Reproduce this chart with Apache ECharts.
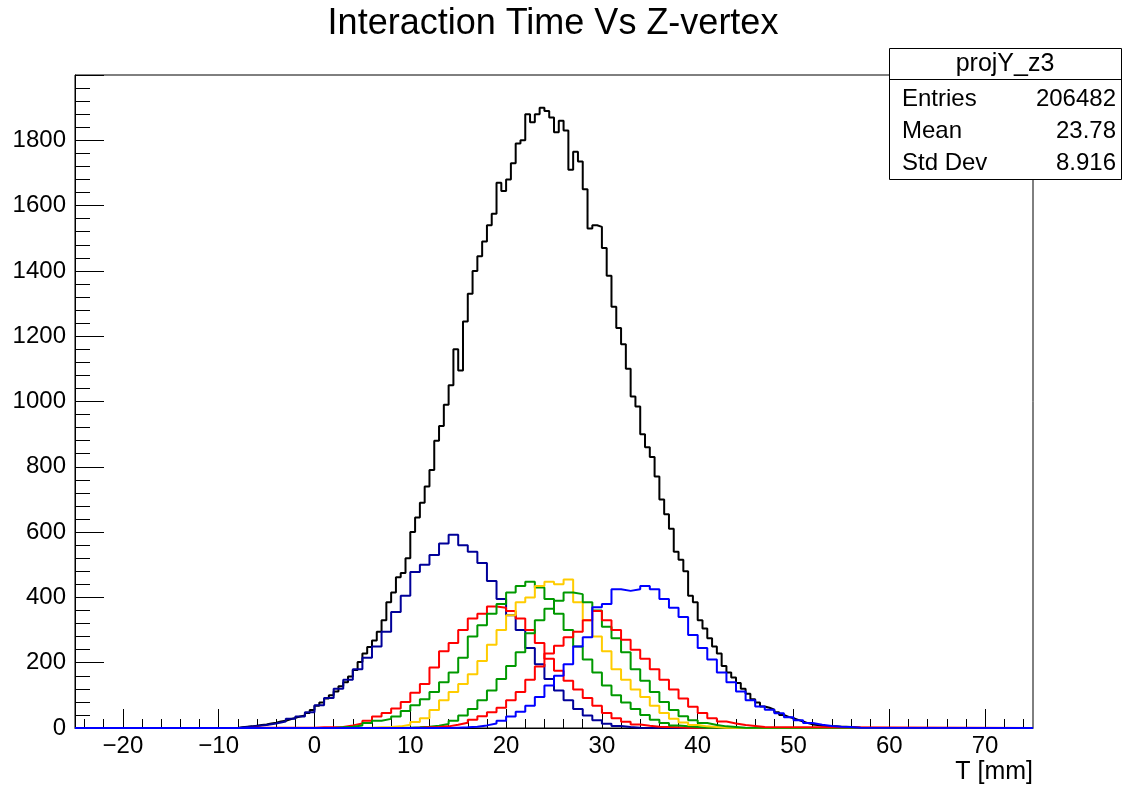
<!DOCTYPE html>
<html><head><meta charset="utf-8">
<script src="https://cdn.jsdelivr.net/npm/echarts@6/dist/echarts.min.js"></script>
<style>html,body{margin:0;padding:0;background:#fff}#c{width:1124px;height:787px}</style>
</head><body><div id="c"></div>
<script>
// ---- axis range / ticks ----
const X_MIN = -25, X_MAX = 75;
const Y_MIN = 0, Y_MAX = 2000;
const xMajorTicks = [-20, -10, 0, 10, 20, 30, 40, 50, 60, 70];
const xMinorTicks = [-24, -22, -18, -16, -14, -12, -8, -6, -4, -2, 2, 4, 6, 8, 12, 14, 16, 18, 22, 24, 26, 28, 32, 34, 36, 38, 42, 44, 46, 48, 52, 54, 56, 58, 62, 64, 66, 68, 72, 74];

// ---- histogram data (bin start, bin width, counts) ----
const blackStart = -8, blackWidth = 0.5;
const blackCounts = [2,4,5,7,9,11,14,16,20,22,27,31,35,38,46,55,68,78,90,100,112,128,140,158,178,202,228,248,268,295,330,385,415,462,475,520,600,645,690,740,790,880,925,990,1050,1160,1095,1245,1330,1400,1445,1490,1540,1575,1670,1645,1680,1730,1790,1800,1880,1855,1880,1900,1890,1870,1825,1860,1830,1710,1765,1735,1650,1530,1540,1535,1470,1385,1290,1225,1175,1100,1015,985,900,860,830,770,700,655,610,540,515,480,405,385,330,305,275,250,228,190,170,155,138,120,105,88,78,66,62,56,48,40,34,30,25,20,15,11,9,7,6,5,5,4,4,3,2,1];

const navyStart = -8, navyWidth = 1;
const navyCounts = [3,6,9,14,20,28,35,48,70,92,120,148,180,215,250,295,355,405,478,500,530,565,592,560,540,505,450,395,345,300,245,195,150,115,85,58,38,24,13,6,3,1];

const red1Start = -7, red1Width = 1;
const red1Counts = [1,1,1,1,1,1,1,2,2,3,8,14,22,35,46,60,80,108,135,185,235,260,300,335,350,372,368,358,335,300,260,212,175,145,118,92,68,46,30,19,11,7,4,3,2,1];

const green1Start = 2, green1Width = 1;
const green1Counts = [2,4,8,15,22,28,35,52,70,88,110,140,170,215,280,315,350,380,415,435,448,430,395,350,300,250,210,170,130,100,78,58,40,25,15,8,5,3,1];

const yellowStart = 5, yellowWidth = 1;
const yellowCounts = [1,2,3,5,10,18,30,55,85,110,135,165,205,255,300,345,385,400,435,448,440,455,385,330,280,235,180,148,118,95,68,46,28,17,9,5,3,1];

const green2Start = 9, green2Width = 1;
const green2Counts = [1,2,4,7,12,22,38,58,85,115,150,190,232,290,330,365,390,415,410,385,360,310,275,232,180,145,110,80,55,36,24,15,9,5,3,1];

const red2Start = 10, red2Width = 1;
const red2Counts = [1,2,3,5,10,16,25,36,48,62,85,110,148,188,228,252,278,295,330,358,330,300,270,240,212,180,148,118,90,65,46,30,20,14,9,6,3];

const blueStart = 14, blueWidth = 1;
const blueCounts = [1,2,4,8,14,22,35,50,68,95,130,160,195,250,278,370,380,425,420,425,435,425,395,368,340,285,245,210,170,140,112,85,66,56,45,33,24,15,10,6,4,3,1];

// ---- stats box text ----
const statsTitle = 'projY_z3';
const statsLabels = ['Entries', 'Mean', 'Std Dev'];
const statsValues = ['206482', '23.78', '8.916'];

const FONT = '"Liberation Sans", Arial, Helvetica, sans-serif';

function steps(start, width, counts) {
  const pts = [[X_MIN, 0], [start, 0]];
  counts.forEach((v, i) => {
    const a = start + i * width;
    pts.push([a, v], [a + width, v]);
  });
  const end = start + counts.length * width;
  pts.push([end, 0], [X_MAX, 0]);
  return pts;
}

const histDefs = [
  { start: blackStart, width: blackWidth, counts: blackCounts, color: '#000000' },
  { start: navyStart, width: navyWidth, counts: navyCounts, color: '#000099' },
  { start: red1Start, width: red1Width, counts: red1Counts, color: '#ff0000' },
  { start: green1Start, width: green1Width, counts: green1Counts, color: '#009900' },
  { start: yellowStart, width: yellowWidth, counts: yellowCounts, color: '#ffcc00' },
  { start: green2Start, width: green2Width, counts: green2Counts, color: '#009900' },
  { start: red2Start, width: red2Width, counts: red2Counts, color: '#ff0000' },
  { start: blueStart, width: blueWidth, counts: blueCounts, color: '#0000ff' }
];

const chart = echarts.init(document.getElementById('c'));

const statsGraphics = [
  { type: 'rect', shape: { x: 889.5, y: 48.5, width: 232, height: 131 }, style: { fill: '#fff', stroke: '#000', lineWidth: 1 }, z: 100 },
  { type: 'line', shape: { x1: 889.5, y1: 79.5, x2: 1121.5, y2: 79.5 }, style: { stroke: '#000', lineWidth: 1 }, z: 101 },
  { type: 'text', x: 1005, y: 64, style: { text: statsTitle, font: '25px ' + FONT, fill: '#000', textAlign: 'center', textVerticalAlign: 'middle' }, z: 101 }
];
statsLabels.forEach((t, i) => {
  statsGraphics.push({ type: 'text', x: 902, y: 99 + i * 32, style: { text: t, font: '24px ' + FONT, fill: '#000', textAlign: 'left', textVerticalAlign: 'middle' }, z: 101 });
  statsGraphics.push({ type: 'text', x: 1116, y: 99 + i * 32, style: { text: statsValues[i], font: '24px ' + FONT, fill: '#000', textAlign: 'right', textVerticalAlign: 'middle' }, z: 101 });
});

chart.setOption({
  animation: false,
  backgroundColor: '#fff',
  grid: { left: 75, right: 91, top: 75, bottom: 59, show: true, borderColor: '#000', borderWidth: 1, backgroundColor: 'transparent' },
  xAxis: [
    {
      type: 'value', min: X_MIN, max: X_MAX, splitNumber: 10, position: 'bottom',
      axisLine: { show: true, onZero: false, lineStyle: { color: '#000', width: 1 } },
      axisTick: { show: true, inside: true, length: 19, customValues: xMajorTicks, lineStyle: { color: '#000', width: 1 } },
      axisLabel: { customValues: xMajorTicks, formatter: v => String(v).replace('-', '\u2212'), fontSize: 24, fontFamily: FONT, color: '#000', margin: 6 },
      splitLine: { show: false }
    },
    {
      type: 'value', min: X_MIN, max: X_MAX, splitNumber: 10, position: 'bottom',
      axisLine: { show: false, onZero: false },
      axisTick: { show: true, inside: true, length: 9, customValues: xMinorTicks, lineStyle: { color: '#000', width: 1 } },
      axisLabel: { show: false },
      splitLine: { show: false }
    }
  ],
  yAxis: {
    type: 'value', min: Y_MIN, max: Y_MAX, interval: 200,
    axisLine: { show: true, onZero: false, lineStyle: { color: '#000', width: 1 } },
    axisTick: { show: true, inside: true, length: 29, lineStyle: { color: '#000', width: 1 } },
    minorTick: { show: true, splitNumber: 5, length: 15, lineStyle: { color: '#000', width: 1 } },
    axisLabel: { formatter: v => (v >= Y_MAX ? '' : String(v)), fontSize: 24, fontFamily: FONT, color: '#000', margin: 9 },
    splitLine: { show: false }, minorSplitLine: { show: false }
  },
  series: histDefs.map((h, i) => ({
    type: 'line', xAxisIndex: 0, yAxisIndex: 0,
    data: steps(h.start, h.width, h.counts),
    showSymbol: false, symbol: 'none', silent: true, clip: true,
    lineStyle: { color: h.color, width: 2 },
    z: 2 + i * 0.01
  })),
  graphic: [
    { type: 'text', x: 553, y: 24, style: { text: 'Interaction Time Vs Z-vertex', font: '36px ' + FONT, fill: '#000', textAlign: 'center', textVerticalAlign: 'middle' } },
    { type: 'text', x: 1033, y: 772, style: { text: 'T [mm]', font: '25px ' + FONT, fill: '#000', textAlign: 'right', textVerticalAlign: 'middle' } }
  ].concat(statsGraphics)
});
</script>
</body></html>
